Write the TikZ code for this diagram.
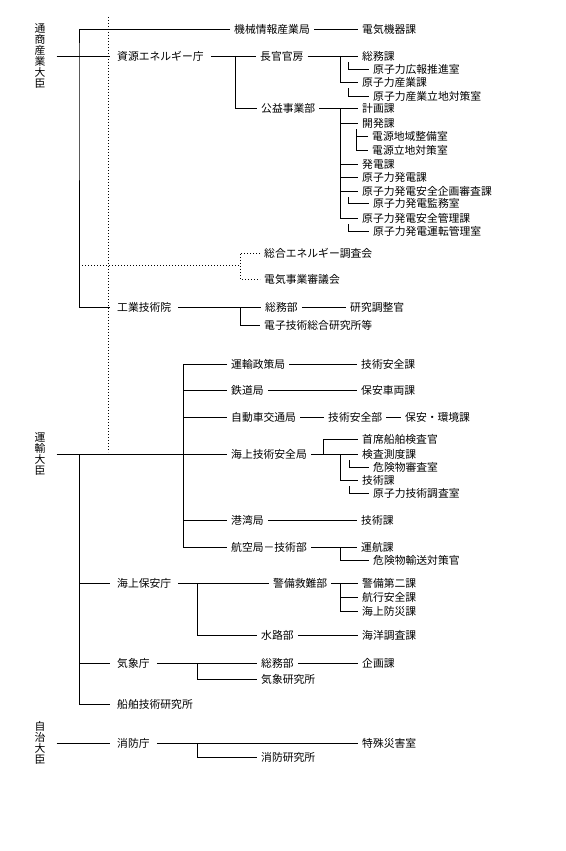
\documentclass[tikz,border=0pt]{standalone}
\usepackage{fontspec}
\setmainfont{Noto Sans CJK JP}
\usepackage{tikz}
\usetikzlibrary{positioning}

\begin{document}
\begin{tikzpicture}[x=1pt, y=-1pt,
        org/.style={anchor=west, inner xsep=4pt, inner ysep=1pt, font=\fontsize{10.8}{12}\selectfont},
        cho/.style={org, inner xsep=7pt},
        daijin/.style={align=center, inner xsep=11pt, inner ysep=0pt, font=\fontsize{10.8}{11}\selectfont},
        link/.style={line width=0.6pt},
        kanren/.style={line width=0.8pt, dash pattern=on 0.8pt off 2.2pt}
    ]
        \useasboundingbox (0,0) rectangle (565,851);

        % ministers
        \node[daijin] (tsusan) at (40,56) {通\\商\\産\\業\\大\\臣};
        \node[daijin] (unyu) at (40,454) {運\\輸\\大\\臣};
        \node[daijin] (jichi) at (40,743) {自\\治\\大\\臣};

        % MITI
        \node[org] (kikai) at (230,29) {機械情報産業局};
        \node[org] (denki) at (358,29) {電気機器課};
        \node[cho] (shigen) at (110,56) {資源エネルギー庁};
        \node[org] (chokan) at (256,56) {長官官房};
        \node[org] (koeki) at (257,108) {公益事業部};
        \node[org] (somu1) at (358,56) {総務課};
        \node[org] (koho) at (369,69) {原子力広報推進室};
        \node[org] (sangyo) at (358,82) {原子力産業課};
        \node[org] (ritchi) at (369,96) {原子力産業立地対策室};
        \node[org] (keikaku) at (358,108) {計画課};
        \node[org] (kaihatsu) at (358,123) {開発課};
        \node[org] (chiiki) at (368,136) {電源地域整備室};
        \node[org] (dengen) at (368,150) {電源立地対策室};
        \node[org] (hatsuden) at (358,164) {発電課};
        \node[org] (genpatsu) at (358,177) {原子力発電課};
        \node[org] (kikaku) at (358,191) {原子力発電安全企画審査課};
        \node[org] (kanmu) at (369,203) {原子力発電監務室};
        \node[org] (kanri) at (358,218) {原子力発電安全管理課};
        \node[org] (unten) at (369,231) {原子力発電運転管理室};
        \node[org] (sogo) at (260,253) {総合エネルギー調査会};
        \node[org] (shingi) at (260,279) {電気事業審議会};
        \node[cho] (kogyo) at (110,307) {工業技術院};
        \node[org] (somu2) at (261,307) {総務部};
        \node[org] (kenkyu) at (346,307) {研究調整官};
        \node[org] (denshi) at (260,325) {電子技術総合研究所等};

        % MOT
        \node[org] (unseisaku) at (227,364) {運輸政策局};
        \node[org] (gian1) at (357,364) {技術安全課};
        \node[org] (tetsudo) at (227,390) {鉄道局};
        \node[org] (hoan) at (357,390) {保安車両課};
        \node[org] (jidosha) at (227,417) {自動車交通局};
        \node[org] (gibu) at (324,417) {技術安全部};
        \node[org] (kankyo) at (401,417) {保安・環境課};
        \node[org] (kaijo) at (227,454) {海上技術安全局};
        \node[org] (shuseki) at (358,439) {首席船舶検査官};
        \node[org] (kensa) at (358,454) {検査測度課};
        \node[org] (kiken) at (369,467) {危険物審査室};
        \node[org] (gijutsu1) at (358,480) {技術課};
        \node[org] (chosa) at (369,493) {原子力技術調査室};
        \node[org] (kowan) at (227,520) {港湾局};
        \node[org] (gijutsu2) at (357,520) {技術課};
        \node[org] (koku) at (227,547) {航空局－技術部};
        \node[org] (unko) at (357,547) {運航課};
        \node[org] (yuso) at (369,560) {危険物輸送対策官};
        \node[cho] (hoancho) at (110,583) {海上保安庁};
        \node[org] (keibi) at (269,583) {警備救難部};
        \node[org] (daini) at (358,583) {警備第二課};
        \node[org] (kouko) at (358,597) {航行安全課};
        \node[org] (bosai) at (358,611) {海上防災課};
        \node[org] (suiro) at (257,635) {水路部};
        \node[org] (kaiyo) at (358,635) {海洋調査課};
        \node[cho] (kisho) at (110,663) {気象庁};
        \node[org] (somu3) at (257,663) {総務部};
        \node[org] (kikaku2) at (358,663) {企画課};
        \node[org] (kishoken) at (257,679) {気象研究所};
        \node[cho] (senpaku) at (110,704) {船舶技術研究所};

        % Home Affairs
        \node[cho] (shobo) at (110,743) {消防庁};
        \node[org] (tokushu) at (358,743) {特殊災害室};
        \node[org] (shoken) at (257,757) {消防研究所};

        \coordinate (miti) at (79,56);
        \coordinate (b1) at (235,56);
        \coordinate (b2) at (340,56);
        \coordinate (b3) at (340,108);
        \coordinate (b4) at (240,307);
        \coordinate (dtop) at (108,17);
        \coordinate (dbot) at (108,452);
        \coordinate (d1) at (79,265);
        \coordinate (d2) at (240,265);
        \coordinate (u1) at (79,454);
        \coordinate (u2) at (183,364);
        \coordinate (k1) at (323,454);
        \coordinate (k2) at (340,454);
        \coordinate (k3) at (340,547);
        \coordinate (h1) at (197,583);
        \coordinate (h2) at (340,583);
        \coordinate (h3) at (197,663);
        \coordinate (h4) at (197,743);

        \draw[kanren] (dtop) -- (dbot);
        \draw[kanren] (d1) -- (d2);
        \draw[kanren] (sogo.west) -| (d2) |- (shingi.west);

        \draw[link] (tsusan.east) -- (shigen.west);
        \draw[link] (kikai.west) -| (miti) |- (kogyo.west);
        \draw[link] (kikai.east) -- (denki.west);
        \draw[link] (shigen.east) -- (chokan.west);
        \draw[link] (b1) |- (koeki.west);
        \draw[link] (chokan.east) -- (somu1.west);
        \draw[link] (b2) |- (sangyo.west);
        \draw[link] ([xshift=-10pt]somu1.south west) |- (koho.west);
        \draw[link] ([xshift=-10pt]sangyo.south west) |- (ritchi.west);
        \draw[link] (koeki.east) -- (keikaku.west);
        \draw[link] (b3) |- (kanri.west);
        \foreach \n in {kaihatsu,hatsuden,genpatsu,kikaku}
            \draw[link] (b3 |- \n.west) -- (\n.west);
        \draw[link] ([xshift=-2pt]kaihatsu.south west) |- (dengen.west);
        \draw[link] (chiiki.west) -| ([xshift=-2pt]kaihatsu.south west);
        \draw[link] ([xshift=-10pt]kikaku.south west) |- (kanmu.west);
        \draw[link] ([xshift=-10pt]kanri.south west) |- (unten.west);
        \draw[link] (kogyo.east) -- (somu2.west);
        \draw[link] (b4) |- (denshi.west);
        \draw[link] (somu2.east) -- (kenkyu.west);

        \draw[link] (unyu.east) -- (kaijo.west);
        \draw[link] (u1) |- (senpaku.west);
        \draw[link] (u1 |- hoancho.west) -- (hoancho.west);
        \draw[link] (u1 |- kisho.west) -- (kisho.west);
        \draw[link] (unseisaku.west) -- (u2) |- (koku.west);
        \foreach \n in {tetsudo,jidosha,kowan}
            \draw[link] (u2 |- \n.west) -- (\n.west);
        \draw[link] (unseisaku.east) -- (gian1.west);
        \draw[link] (tetsudo.east) -- (hoan.west);
        \draw[link] (jidosha.east) -- (gibu.west);
        \draw[link] (gibu.east) -- (kankyo.west);
        \draw[link] (kaijo.east) -- (kensa.west);
        \draw[link] (k1) |- (shuseki.west);
        \draw[link] (k2) |- (gijutsu1.west);
        \draw[link] ([xshift=-9pt]kensa.south west) |- (kiken.west);
        \draw[link] ([xshift=-9pt]gijutsu1.south west) |- (chosa.west);
        \draw[link] (kowan.east) -- (gijutsu2.west);
        \draw[link] (koku.east) -- (unko.west);
        \draw[link] (k3) |- (yuso.west);
        \draw[link] (hoancho.east) -- (keibi.west);
        \draw[link] (h1) |- (suiro.west);
        \draw[link] (keibi.east) -- (daini.west);
        \draw[link] (h2) |- (bosai.west);
        \draw[link] (h2 |- kouko.west) -- (kouko.west);
        \draw[link] (suiro.east) -- (kaiyo.west);
        \draw[link] (kisho.east) -- (somu3.west);
        \draw[link] (h3) |- (kishoken.west);
        \draw[link] (somu3.east) -- (kikaku2.west);

        \draw[link] (jichi.east) -- (shobo.west);
        \draw[link] (shobo.east) -- (tokushu.west);
        \draw[link] (h4) |- (shoken.west);
    \end{tikzpicture}
\end{document}
